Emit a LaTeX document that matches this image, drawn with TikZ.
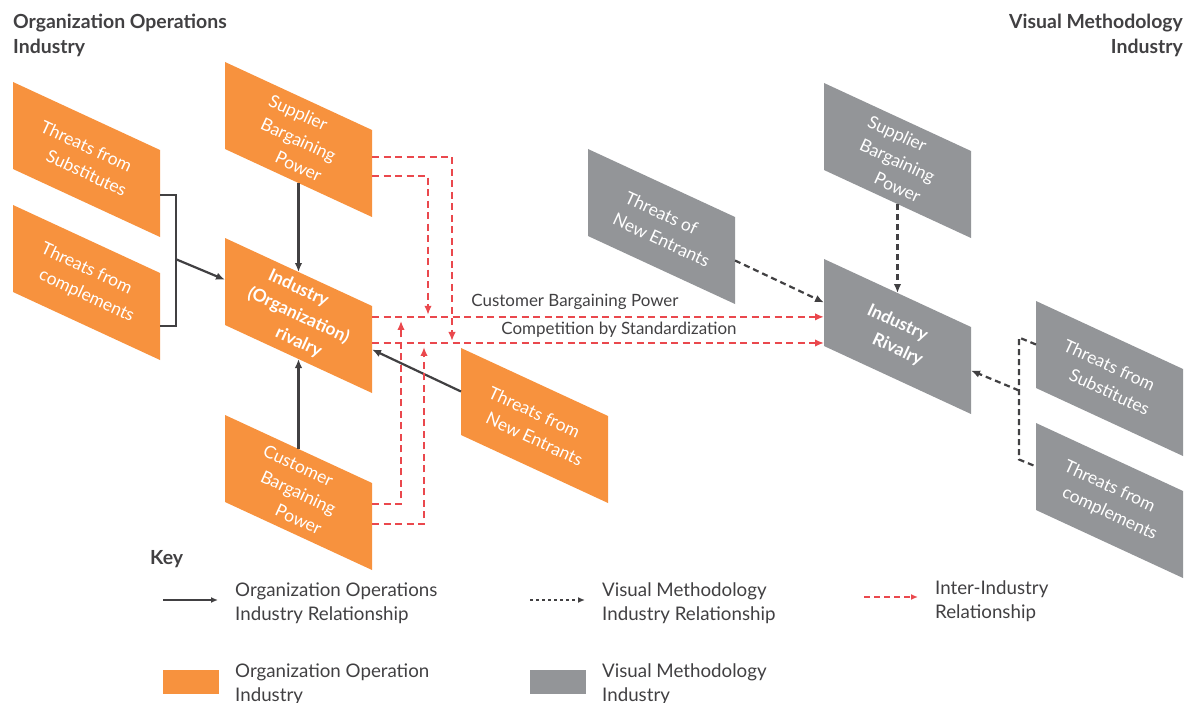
\documentclass[tikz,border=0pt]{standalone}
\usepackage{fontspec}
\setmainfont{Lato}
\usetikzlibrary{arrows.meta,calc}

\definecolor{orgorange}{RGB}{247,146,62}
\definecolor{vmgray}{RGB}{147,149,152}
\definecolor{interred}{RGB}{234,72,77}
\definecolor{darkline}{RGB}{65,64,66}

% keeps the rotated text lines stacked straight down
\newcommand{\lnshift}{\hspace*{11.4bp}}

% slanted box: name, x, y (top left corner), fill style, text
\newcommand{\pgram}[5]{%
  \coordinate (#1-nw) at (#2,#3);
  \coordinate (#1-ne) at ($(#1-nw)+(147,68)$);
  \coordinate (#1-se) at ($(#1-nw)+(147,155)$);
  \coordinate (#1-sw) at ($(#1-nw)+(0,87)$);
  \fill[#4] (#1-nw) -- (#1-ne) -- (#1-se) -- (#1-sw) -- cycle;
  \coordinate (#1-n) at ($(#1-nw)!0.5!(#1-ne)$);
  \coordinate (#1-s) at ($(#1-sw)!0.5!(#1-se)$);
  \coordinate (#1-e) at ($(#1-ne)!0.5!(#1-se)$);
  \coordinate (#1-w) at ($(#1-nw)!0.5!(#1-sw)$);
  \node[boxtext] (#1) at ($(#1-nw)!0.5!(#1-se)$) {#5};
}

\begin{document}
\begin{tikzpicture}[x=1bp, y=-1bp, >={Latex[length=9bp,width=7.5bp]}]
    \tikzstyle{orgbox} = [fill=orgorange];
    \tikzstyle{vmbox} = [fill=vmgray];
    \tikzstyle{boxtext} = [text=white, align=center, rotate=-24.8, inner sep=0pt, font=\fontsize{17.5}{24.5}\selectfont];
    \tikzstyle{orgline} = [darkline, line width=2.2bp];
    \tikzstyle{orgarrow} = [orgline, ->];
    \tikzstyle{vmline} = [darkline, line width=2.2bp, dash pattern=on 6bp off 4bp];
    \tikzstyle{vmarrow} = [vmline, ->];
    \tikzstyle{interarrow} = [interred, line width=2bp, dash pattern=on 7bp off 4.5bp, ->];
    \tikzstyle{lbltext} = [text=darkline, inner sep=0pt, font=\fontsize{17}{20}\selectfont];
    \tikzstyle{keytext} = [text=darkline, inner sep=0pt, align=left, font=\fontsize{18.8}{23.5}\selectfont];
    \tikzstyle{headtext} = [text=darkline, inner sep=0pt, font=\fontsize{19.5}{25}\selectfont\bfseries];
    \useasboundingbox (0,0) rectangle (1185,703);

    % organization operations industry
    \pgram{subst}{13}{82}{orgbox}{Threats from\lnshift\\\lnshift Substitutes}
    \pgram{compl}{13}{205}{orgbox}{Threats from\lnshift\\\lnshift complements}
    \pgram{supp}{225}{62}{orgbox}{Supplier\lnshift\lnshift\\Bargaining\\\lnshift\lnshift Power}
    \pgram{ind}{225}{238}{orgbox}{\bfseries Industry\lnshift\lnshift\\\bfseries (Organization)\\\lnshift\lnshift\bfseries rivalry}
    \pgram{cust}{225}{415}{orgbox}{Customer\lnshift\lnshift\\Bargaining\\\lnshift\lnshift Power}
    \pgram{newent}{461}{348}{orgbox}{Threats from\lnshift\\\lnshift New Entrants}

    % visual methodology industry
    \pgram{gNew}{588}{149}{vmbox}{Threats of\lnshift\\\lnshift New Entrants}
    \pgram{gSupp}{824}{83}{vmbox}{Supplier\lnshift\lnshift\\Bargaining\\\lnshift\lnshift Power}
    \pgram{gInd}{824}{259}{vmbox}{\bfseries Industry\lnshift\\\lnshift\bfseries Rivalry}
    \pgram{gSubst}{1036}{301}{vmbox}{Threats from\lnshift\\\lnshift Substitutes}
    \pgram{gCompl}{1036}{423}{vmbox}{Threats from\lnshift\\\lnshift complements}

    \node[headtext, anchor=north west, align=left] (lhead) at (13,14) {Organization Operations\\Industry};
    \node[headtext, anchor=north east, align=right] (rhead) at (1183,14) {Visual Methodology\\Industry};

    % solid connectors
    \coordinate (sub-out) at ($(subst-ne)!0.52!(subst-se)$);
    \coordinate (com-out) at ($(compl-ne)!0.61!(compl-se)$);
    \coordinate (lbrack) at ($(sub-out)+(16,64)$);
    \draw[orgline] (sub-out) -- ++(16,0) |- (com-out);
    \draw[orgarrow] (lbrack) -- ($(ind-nw)!0.48!(ind-sw)$);
    \draw[orgarrow] (supp-s) -- (ind-n);
    \draw[orgarrow] (cust-n) -- (ind-s);
    \draw[orgarrow] (newent-w) -- (ind-e);

    % dashed connectors
    \coordinate (rbrack) at ($(gSubst-w)+(-17,46)$);
    \draw[vmline] (gSubst-w) -- ++(-17,-7) -- ++(0,122) -- (gCompl-w);
    \draw[vmarrow] (rbrack) -- (gInd-e);
    \draw[vmarrow] (gNew-e) -- (gInd-w);
    \draw[vmarrow] (gSupp-s) -- (gInd-n);

    % inter-industry
    \coordinate (cbp-from) at ($(ind-ne)!0.125!(ind-se)$);
    \coordinate (cs-from) at ($(ind-ne)!0.425!(ind-se)$);
    \coordinate (sp-a) at ($(supp-ne)!0.31!(supp-se)$);
    \coordinate (sp-b) at ($(supp-ne)!0.53!(supp-se)$);
    \coordinate (cu-a) at ($(cust-ne)!0.24!(cust-se)$);
    \coordinate (cu-b) at ($(cust-ne)!0.47!(cust-se)$);
    \draw[interarrow] (cbp-from) -- (cbp-from -| gInd-w);
    \draw[interarrow] (cs-from) -- (cs-from -| gInd-w);
    \draw[interarrow] (sp-a) -| ($(cs-from)+(80,-2)$);
    \draw[interarrow] (sp-b) -| ($(cbp-from)+(56,-2)$);
    \draw[interarrow] (cu-a) -| ($(cbp-from)+(29,4)$);
    \draw[interarrow] (cu-b) -| ($(cs-from)+(52,4)$);
    \node[lbltext, anchor=base] (cbp-lbl) at (575,306) {Customer Bargaining Power};
    \node[lbltext, anchor=base] (cs-lbl) at (619,334) {Competition by Standardization};

    % key
    \node[headtext, anchor=base west] (key) at (150,564) {Key};
    \coordinate (k1a) at (163,600); \coordinate (k1b) at (218,600);
    \coordinate (k2a) at (530,600); \coordinate (k2b) at (585,600);
    \coordinate (k3a) at (864,597); \coordinate (k3b) at (918,597);
    \draw[orgline, line width=1.6bp, -{Latex[length=7bp,width=6bp]}] (k1a) -- (k1b);
    \draw[darkline, line width=1.4bp, dash pattern=on 3bp off 3bp, -{Latex[length=7bp,width=6bp]}] (k2a) -- (k2b);
    \draw[interarrow, line width=1.6bp, dash pattern=on 6bp off 4bp, -{Latex[length=7bp,width=6bp]}] (k3a) -- (k3b);
    \node[keytext, anchor=north west] (k1) at (235,583) {Organization Operations\\Industry Relationship};
    \node[keytext, anchor=north west] (k2) at (602,583) {Visual Methodology\\Industry Relationship};
    \node[keytext, anchor=north west] (k3) at (935,581) {Inter-Industry\\Relationship};
    \fill[orgorange] (163,670) rectangle (219,694);
    \fill[vmgray] (530,670) rectangle (586,694);
    \node[keytext, anchor=north west] (k4) at (235,664) {Organization Operation\\Industry};
    \node[keytext, anchor=north west] (k5) at (602,664) {Visual Methodology\\Industry};
\end{tikzpicture}
\end{document}
